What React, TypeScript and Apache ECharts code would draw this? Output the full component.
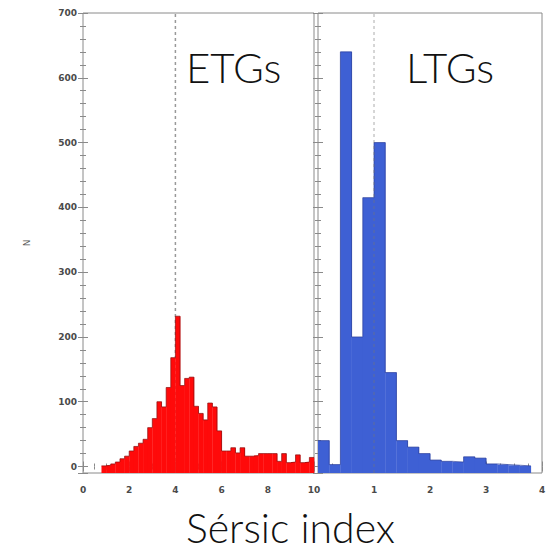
import React, { useEffect, useRef } from "react";
import * as echarts from "echarts";

const BIN = 0.2;
const etgCounts = [
  0, 0, 0, 0, 1, 2, 4, 7, 12, 16,
  24, 31, 36, 42, 60, 74, 100, 92, 122, 168,
  232, 125, 136, 138, 93, 82, 72, 98, 92, 55,
  24, 24, 29, 21, 29, 16, 16, 17, 20, 20,
  20, 20, 8, 20, 6, 7, 18, 6, 7, 14,
];
const ltgCounts = [
  40, 3, 640, 200, 415, 500, 145, 40, 30, 20,
  10, 8, 7, 15, 13, 4, 3, 2, 1, 0,
];
const etgTicks = [0, 2, 4, 6, 8, 10];
const ltgTicks = [0, 1, 2, 3, 4];
const Y_MIN = -10;
const Y_MAX = 700;
const etgMedian = 4;
const ltgMedian = 1;

const FRAME = "#8a8a8a";
const LABEL_FONT = {
  fontFamily: "DejaVu Sans",
  fontWeight: "bold" as const,
  fontSize: 9,
  color: "#4a4a4a",
};

function histData(counts: number[]) {
  return counts.map((c, i) => [i * BIN, (i + 1) * BIN, c]);
}
function stepData(counts: number[]) {
  let first = counts.findIndex((c) => c > 0);
  let last = counts.length - 1;
  while (last > 0 && counts[last] <= 0) last--;
  const pts: number[][] = [];
  for (let i = first; i <= last; i++) pts.push([i * BIN, counts[i]]);
  pts.push([(last + 1) * BIN, counts[last]]);
  return pts;
}

function rectRenderer(fill: string) {
  return (params: any, api: any) => {
    const x0 = api.value(0);
    const x1 = api.value(1);
    const v = api.value(2);
    if (!(v > 0)) return null;
    const pTop = api.coord([x0, v]);
    const pBot = api.coord([x1, Y_MIN]);
    return {
      type: "rect",
      shape: {
        x: pTop[0],
        y: pTop[1],
        width: pBot[0] - pTop[0] + 0.3,
        height: pBot[1] - pTop[1],
      },
      style: { fill },
    };
  };
}

export default function App() {
  const ref = useRef<HTMLDivElement>(null);
  useEffect(() => {
    if (!ref.current) return;
    const chart = echarts.init(ref.current, null, { renderer: "svg" });

    const grids = [
      { left: 83, top: 13, width: 231, height: 460, show: true, borderColor: FRAME, borderWidth: 1, backgroundColor: "#fff" },
      { left: 318, top: 13, width: 224, height: 460, show: true, borderColor: FRAME, borderWidth: 1, backgroundColor: "#fff" },
    ];

    const xBase = (gridIndex: number, max: number, interval: number, position: string, showLabel: boolean, showMin: boolean) => ({
      type: "value",
      gridIndex,
      min: 0,
      max,
      interval,
      position,
      axisLine: { show: false },
      axisTick: { show: true, inside: true, length: 5, lineStyle: { color: FRAME } },
      minorTick: { show: true, splitNumber: 4, length: 3, lineStyle: { color: FRAME } },
      splitLine: { show: false },
      axisLabel: { show: showLabel, showMinLabel: showMin, margin: 12, ...LABEL_FONT },
    });
    const yBase = (gridIndex: number, position: string, showLabel: boolean) => ({
      type: "value",
      gridIndex,
      min: Y_MIN,
      max: Y_MAX,
      splitNumber: 7,
      position,
      axisLine: { show: false },
      axisTick: { show: true, inside: true, length: 5, lineStyle: { color: FRAME } },
      minorTick: { show: true, splitNumber: 5, length: 3, lineStyle: { color: FRAME } },
      splitLine: { show: false },
      axisLabel: {
        show: showLabel,
        showMinLabel: false,
        margin: 6,
        formatter: (v: number) => (v < 0 ? "" : String(v)),
        ...LABEL_FONT,
      },
    });

    const option: any = {
      animation: false,
      backgroundColor: "#fff",
      grid: grids,
      xAxis: [
        xBase(0, etgTicks[etgTicks.length - 1], etgTicks[1] - etgTicks[0], "bottom", true, true),
        xBase(0, etgTicks[etgTicks.length - 1], etgTicks[1] - etgTicks[0], "top", false, true),
        xBase(1, ltgTicks[ltgTicks.length - 1], ltgTicks[1] - ltgTicks[0], "bottom", true, false),
        xBase(1, ltgTicks[ltgTicks.length - 1], ltgTicks[1] - ltgTicks[0], "top", false, false),
      ],
      yAxis: [
        {
          ...yBase(0, "left", true),
          name: "N",
          nameLocation: "middle",
          nameGap: 52,
          nameRotate: 90,
          nameTextStyle: { fontFamily: "DejaVu Sans", fontSize: 9, color: "#555" },
        },
        yBase(0, "right", false),
        yBase(1, "left", false),
        yBase(1, "right", false),
      ],
      series: [
        {
          type: "line",
          xAxisIndex: 0,
          yAxisIndex: 0,
          data: [[etgMedian, Y_MIN], [etgMedian, Y_MAX]],
          symbol: "none",
          lineStyle: { color: "#999", width: 1.5, type: [3, 3] },
          z: 1,
        },
        {
          type: "custom",
          xAxisIndex: 0,
          yAxisIndex: 0,
          renderItem: rectRenderer("#ff0a0a"),
          encode: { x: [0, 1], y: 2 },
          data: histData(etgCounts),
          z: 2,
        },
        {
          type: "line",
          xAxisIndex: 0,
          yAxisIndex: 0,
          step: "end",
          data: stepData(etgCounts),
          symbol: "none",
          lineStyle: { color: "#8a1010", width: 1, opacity: 0.7 },
          z: 3,
        },
        {
          type: "custom",
          xAxisIndex: 2,
          yAxisIndex: 2,
          renderItem: rectRenderer("#3e60d4"),
          encode: { x: [0, 1], y: 2 },
          data: histData(ltgCounts),
          z: 2,
        },
        {
          type: "line",
          xAxisIndex: 2,
          yAxisIndex: 2,
          step: "end",
          data: stepData(ltgCounts),
          symbol: "none",
          lineStyle: { color: "#2a3d9a", width: 1, opacity: 0.7 },
          z: 3,
        },
        {
          type: "line",
          xAxisIndex: 2,
          yAxisIndex: 2,
          data: [[ltgMedian, Y_MIN], [ltgMedian, Y_MAX]],
          symbol: "none",
          lineStyle: { color: "#777", width: 1, type: [3, 3], opacity: 0.6 },
          z: 4,
        },
      ],
      graphic: [
        {
          type: "text",
          left: 186,
          top: 46,
          style: { text: "ETGs", font: "300 42px Lato", fill: "#111" },
        },
        {
          type: "text",
          left: 406,
          top: 46,
          style: { text: "LTGs", font: "300 42px Lato", fill: "#111" },
        },
        {
          type: "text",
          left: 186,
          top: 507,
          style: { text: "Sérsic index", font: "300 41px Lato", fill: "#111" },
        },
      ],
    };
    chart.setOption(option);
    return () => chart.dispose();
  }, []);
  return (
    <div
      ref={ref}
      style={{ position: "absolute", left: 0, top: 0, width: 551, height: 552, background: "#fff" }}
    />
  );
}
